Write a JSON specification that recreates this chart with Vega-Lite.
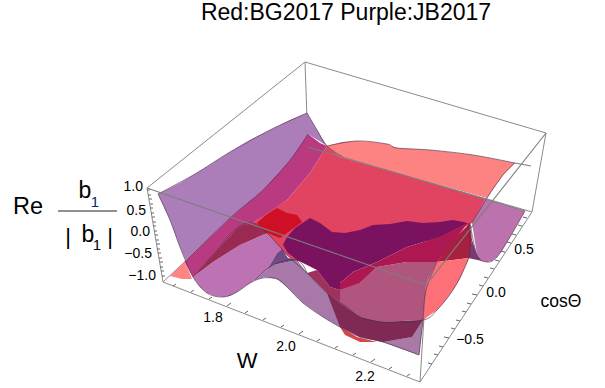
{"$schema":"https://vega.github.io/schema/vega-lite/v6.json","width":605,"height":388,"autosize":{"type":"fit","contains":"padding"},"padding":0,"background":"white","view":{"stroke":null},
"config":{"font":"Liberation Sans"},
"datasets":{
"back":[{"x":305,"y":62,"x2":147,"y2":188},{"x":305,"y":62,"x2":546,"y2":133},{"x":305,"y":62,"x2":308,"y2":147},{"x":546,"y":133,"x2":532,"y2":212},{"x":147,"y":188,"x2":163,"y2":282},{"x":163,"y":282,"x2":420,"y2":382},{"x":420,"y":382,"x2":532,"y2":212},{"x":308,"y":147,"x2":532,"y2":212},{"x":308,"y":147,"x2":163,"y2":282},{"x":426,"y":285,"x2":420,"y2":382}],
"front":[{"x":147,"y":188,"x2":426,"y2":285},{"x":426,"y":285,"x2":546,"y2":133},{"x":515,"y":163,"x2":531,"y2":166},{"x":308,"y":147,"x2":485,"y2":199},{"x":485,"y":199,"x2":525,"y2":211}],
"ticks":[{"x":147,"y":190,"x2":150,"y2":190},{"x":148,"y":195,"x2":151,"y2":195},{"x":149,"y":199,"x2":152,"y2":199},{"x":150,"y":204,"x2":153,"y2":204},{"x":150,"y":208,"x2":153,"y2":208},{"x":151,"y":213,"x2":154,"y2":213},{"x":152,"y":217,"x2":155,"y2":217},{"x":153,"y":222,"x2":156,"y2":222},{"x":153,"y":226,"x2":156,"y2":226},{"x":154,"y":231,"x2":157,"y2":231},{"x":155,"y":235,"x2":158,"y2":235},{"x":156,"y":240,"x2":159,"y2":240},{"x":157,"y":244,"x2":160,"y2":244},{"x":157,"y":249,"x2":160,"y2":249},{"x":158,"y":253,"x2":161,"y2":253},{"x":159,"y":258,"x2":162,"y2":258},{"x":160,"y":262,"x2":163,"y2":262},{"x":160,"y":267,"x2":163,"y2":267},{"x":161,"y":271,"x2":164,"y2":271},{"x":162,"y":276,"x2":165,"y2":276},
{"x":173,"y":286,"x2":176,"y2":284},{"x":191,"y":292,"x2":194,"y2":290},{"x":209,"y":299,"x2":212,"y2":297},{"x":227,"y":306,"x2":231,"y2":303},{"x":245,"y":313,"x2":248,"y2":311},{"x":263,"y":320,"x2":266,"y2":318},{"x":281,"y":327,"x2":284,"y2":325},{"x":299,"y":334,"x2":303,"y2":331},{"x":317,"y":341,"x2":320,"y2":339},{"x":335,"y":348,"x2":338,"y2":346},{"x":353,"y":355,"x2":356,"y2":353},{"x":371,"y":362,"x2":375,"y2":359},{"x":389,"y":369,"x2":392,"y2":367},{"x":407,"y":376,"x2":410,"y2":374},
{"x":432,"y":364,"x2":428,"y2":363},{"x":438,"y":355,"x2":434,"y2":354},{"x":443,"y":347,"x2":439,"y2":346},{"x":449,"y":338,"x2":444,"y2":337},{"x":455,"y":329,"x2":451,"y2":328},{"x":460,"y":321,"x2":456,"y2":320},{"x":466,"y":312,"x2":462,"y2":311},{"x":471,"y":304,"x2":467,"y2":303},{"x":477,"y":295,"x2":472,"y2":294},{"x":483,"y":286,"x2":479,"y2":285},{"x":488,"y":278,"x2":484,"y2":277},{"x":494,"y":269,"x2":490,"y2":268},{"x":499,"y":261,"x2":495,"y2":260},{"x":505,"y":252,"x2":500,"y2":251},{"x":511,"y":243,"x2":507,"y2":242},{"x":516,"y":235,"x2":512,"y2":234},{"x":522,"y":226,"x2":518,"y2":225},{"x":527,"y":218,"x2":523,"y2":217}],
"polys":[
{"g":"a01","i":0,"x":327,"y":146},{"g":"a01","i":1,"x":342,"y":142},{"g":"a01","i":2,"x":357,"y":141},{"g":"a01","i":3,"x":372,"y":142},{"g":"a01","i":4,"x":387,"y":144},{"g":"a01","i":5,"x":397,"y":148},{"g":"a01","i":6,"x":430,"y":150},{"g":"a01","i":7,"x":473,"y":155},{"g":"a01","i":8,"x":515,"y":163},{"g":"a01","i":9,"x":503,"y":175},{"g":"a01","i":10,"x":487,"y":198},{"g":"a01","i":11,"x":400,"y":174},{"g":"a01","i":12,"x":340,"y":157},
{"g":"a02","i":0,"x":158,"y":194},{"g":"a02","i":1,"x":180,"y":183},{"g":"a02","i":2,"x":205,"y":168},{"g":"a02","i":3,"x":230,"y":152},{"g":"a02","i":4,"x":250,"y":140},{"g":"a02","i":5,"x":270,"y":130},{"g":"a02","i":6,"x":290,"y":120},{"g":"a02","i":7,"x":307,"y":113},{"g":"a02","i":8,"x":317,"y":130},{"g":"a02","i":9,"x":327,"y":146},{"g":"a02","i":10,"x":308,"y":134},{"g":"a02","i":11,"x":290,"y":160},{"g":"a02","i":12,"x":263,"y":190},{"g":"a02","i":13,"x":230,"y":218},{"g":"a02","i":14,"x":185,"y":262},{"g":"a02","i":15,"x":193,"y":277},{"g":"a02","i":16,"x":180,"y":247},{"g":"a02","i":17,"x":170,"y":220},
{"g":"a03","i":0,"x":170,"y":276},{"g":"a03","i":1,"x":185,"y":261},{"g":"a03","i":2,"x":192,"y":279},{"g":"a03","i":3,"x":182,"y":279},
{"g":"a04","i":0,"x":308,"y":134},{"g":"a04","i":1,"x":320,"y":143},{"g":"a04","i":2,"x":327,"y":146},{"g":"a04","i":3,"x":310,"y":173},{"g":"a04","i":4,"x":287,"y":200},{"g":"a04","i":5,"x":270,"y":212},{"g":"a04","i":6,"x":253,"y":223},{"g":"a04","i":7,"x":237,"y":228},{"g":"a04","i":8,"x":217,"y":250},{"g":"a04","i":9,"x":193,"y":277},{"g":"a04","i":10,"x":185,"y":262},{"g":"a04","i":11,"x":230,"y":218},{"g":"a04","i":12,"x":263,"y":190},{"g":"a04","i":13,"x":290,"y":160},
{"g":"a05","i":0,"x":327,"y":146},{"g":"a05","i":1,"x":340,"y":157},{"g":"a05","i":2,"x":400,"y":174},{"g":"a05","i":3,"x":485,"y":199},{"g":"a05","i":4,"x":478,"y":215},{"g":"a05","i":5,"x":472,"y":223},{"g":"a05","i":6,"x":440,"y":240},{"g":"a05","i":7,"x":345,"y":250},{"g":"a05","i":8,"x":295,"y":262},{"g":"a05","i":9,"x":270,"y":240},{"g":"a05","i":10,"x":253,"y":223},{"g":"a05","i":11,"x":287,"y":200},{"g":"a05","i":12,"x":310,"y":173},
{"g":"a06","i":0,"x":257,"y":223},{"g":"a06","i":1,"x":266,"y":215},{"g":"a06","i":2,"x":277,"y":208},{"g":"a06","i":3,"x":287,"y":213},{"g":"a06","i":4,"x":297,"y":215},{"g":"a06","i":5,"x":302,"y":222},{"g":"a06","i":6,"x":280,"y":238},{"g":"a06","i":7,"x":265,"y":232},
{"g":"a07","i":0,"x":193,"y":277},{"g":"a07","i":1,"x":200,"y":287},{"g":"a07","i":2,"x":207,"y":293},{"g":"a07","i":3,"x":215,"y":296},{"g":"a07","i":4,"x":223,"y":297},{"g":"a07","i":5,"x":230,"y":296},{"g":"a07","i":6,"x":237,"y":292},{"g":"a07","i":7,"x":250,"y":283},{"g":"a07","i":8,"x":255,"y":280},{"g":"a07","i":9,"x":267,"y":270},{"g":"a07","i":10,"x":277,"y":253},{"g":"a07","i":11,"x":282,"y":249},{"g":"a07","i":12,"x":267,"y":233},{"g":"a07","i":13,"x":240,"y":245},{"g":"a07","i":14,"x":213,"y":262},
{"g":"a08","i":0,"x":193,"y":277},{"g":"a08","i":1,"x":213,"y":262},{"g":"a08","i":2,"x":240,"y":245},{"g":"a08","i":3,"x":267,"y":233},{"g":"a08","i":4,"x":261,"y":227},{"g":"a08","i":5,"x":253,"y":223},{"g":"a08","i":6,"x":244,"y":225},{"g":"a08","i":7,"x":237,"y":228},{"g":"a08","i":8,"x":217,"y":250},
{"g":"a09","i":0,"x":255,"y":280},{"g":"a09","i":1,"x":265,"y":277},{"g":"a09","i":2,"x":277,"y":279},{"g":"a09","i":3,"x":287,"y":287},{"g":"a09","i":4,"x":295,"y":295},{"g":"a09","i":5,"x":303,"y":303},{"g":"a09","i":6,"x":313,"y":310},{"g":"a09","i":7,"x":323,"y":317},{"g":"a09","i":8,"x":340,"y":327},{"g":"a09","i":9,"x":360,"y":337},{"g":"a09","i":10,"x":383,"y":342},{"g":"a09","i":11,"x":419,"y":355},{"g":"a09","i":12,"x":423,"y":320},{"g":"a09","i":13,"x":383,"y":322},{"g":"a09","i":14,"x":347,"y":307},{"g":"a09","i":15,"x":327,"y":293},{"g":"a09","i":16,"x":307,"y":273},{"g":"a09","i":17,"x":297,"y":260},{"g":"a09","i":18,"x":273,"y":265},
{"g":"a10","i":0,"x":255,"y":280},{"g":"a10","i":1,"x":267,"y":270},{"g":"a10","i":2,"x":277,"y":253},{"g":"a10","i":3,"x":282,"y":249},{"g":"a10","i":4,"x":288,"y":258},{"g":"a10","i":5,"x":297,"y":260},{"g":"a10","i":6,"x":273,"y":265},
{"g":"a11","i":0,"x":340,"y":327},{"g":"a11","i":1,"x":357,"y":337},{"g":"a11","i":2,"x":377,"y":342},{"g":"a11","i":3,"x":360,"y":342},{"g":"a11","i":4,"x":345,"y":335},
{"g":"a12","i":0,"x":340,"y":303},{"g":"a12","i":1,"x":360,"y":317},{"g":"a12","i":2,"x":383,"y":322},{"g":"a12","i":3,"x":423,"y":320},{"g":"a12","i":4,"x":412,"y":337},{"g":"a12","i":5,"x":383,"y":342},{"g":"a12","i":6,"x":360,"y":337},{"g":"a12","i":7,"x":340,"y":327},{"g":"a12","i":8,"x":327,"y":293},
{"g":"a13","i":0,"x":307,"y":273},{"g":"a13","i":1,"x":317,"y":270},{"g":"a13","i":2,"x":330,"y":287},{"g":"a13","i":3,"x":340,"y":290},{"g":"a13","i":4,"x":360,"y":283},{"g":"a13","i":5,"x":360,"y":317},{"g":"a13","i":6,"x":347,"y":307},{"g":"a13","i":7,"x":327,"y":293},
{"g":"a14","i":0,"x":340,"y":290},{"g":"a14","i":1,"x":360,"y":283},{"g":"a14","i":2,"x":377,"y":267},{"g":"a14","i":3,"x":407,"y":262},{"g":"a14","i":4,"x":437,"y":262},{"g":"a14","i":5,"x":426,"y":285},{"g":"a14","i":6,"x":423,"y":320},{"g":"a14","i":7,"x":383,"y":322},{"g":"a14","i":8,"x":360,"y":317},{"g":"a14","i":9,"x":340,"y":303},
{"g":"a15","i":0,"x":283,"y":245},{"g":"a15","i":1,"x":287,"y":237},{"g":"a15","i":2,"x":295,"y":228},{"g":"a15","i":3,"x":310,"y":218},{"g":"a15","i":4,"x":320,"y":223},{"g":"a15","i":5,"x":332,"y":232},{"g":"a15","i":6,"x":345,"y":233},{"g":"a15","i":7,"x":360,"y":230},{"g":"a15","i":8,"x":373,"y":225},{"g":"a15","i":9,"x":390,"y":224},{"g":"a15","i":10,"x":407,"y":221},{"g":"a15","i":11,"x":423,"y":223},{"g":"a15","i":12,"x":440,"y":222},{"g":"a15","i":13,"x":453,"y":220},{"g":"a15","i":14,"x":468,"y":223},{"g":"a15","i":15,"x":440,"y":237},{"g":"a15","i":16,"x":407,"y":247},{"g":"a15","i":17,"x":377,"y":262},{"g":"a15","i":18,"x":353,"y":272},{"g":"a15","i":19,"x":340,"y":283},{"g":"a15","i":20,"x":340,"y":290},{"g":"a15","i":21,"x":330,"y":287},{"g":"a15","i":22,"x":317,"y":270},{"g":"a15","i":23,"x":297,"y":260},{"g":"a15","i":24,"x":288,"y":253},
{"g":"a16","i":0,"x":340,"y":283},{"g":"a16","i":1,"x":353,"y":272},{"g":"a16","i":2,"x":377,"y":262},{"g":"a16","i":3,"x":407,"y":247},{"g":"a16","i":4,"x":440,"y":237},{"g":"a16","i":5,"x":468,"y":223},{"g":"a16","i":6,"x":437,"y":262},{"g":"a16","i":7,"x":407,"y":262},{"g":"a16","i":8,"x":377,"y":267},{"g":"a16","i":9,"x":360,"y":283},{"g":"a16","i":10,"x":340,"y":290},
{"g":"a17","i":0,"x":437,"y":262},{"g":"a17","i":1,"x":453,"y":240},{"g":"a17","i":2,"x":470,"y":223},{"g":"a17","i":3,"x":472,"y":240},{"g":"a17","i":4,"x":469,"y":258},
{"g":"a18","i":0,"x":437,"y":262},{"g":"a18","i":1,"x":469,"y":258},{"g":"a18","i":2,"x":465,"y":267},{"g":"a18","i":3,"x":460,"y":279},{"g":"a18","i":4,"x":453,"y":290},{"g":"a18","i":5,"x":445,"y":301},{"g":"a18","i":6,"x":437,"y":310},{"g":"a18","i":7,"x":423,"y":320},{"g":"a18","i":8,"x":426,"y":285},
{"g":"a19","i":0,"x":472,"y":223},{"g":"a19","i":1,"x":485,"y":199},{"g":"a19","i":2,"x":525,"y":211},{"g":"a19","i":3,"x":517,"y":225},{"g":"a19","i":4,"x":510,"y":237},{"g":"a19","i":5,"x":503,"y":249},{"g":"a19","i":6,"x":497,"y":257},{"g":"a19","i":7,"x":492,"y":261},{"g":"a19","i":8,"x":487,"y":262},{"g":"a19","i":9,"x":481,"y":260},{"g":"a19","i":10,"x":477,"y":255},
{"g":"a20","i":0,"x":472,"y":240},{"g":"a20","i":1,"x":477,"y":255},{"g":"a20","i":2,"x":481,"y":260},{"g":"a20","i":3,"x":487,"y":262},{"g":"a20","i":4,"x":468,"y":258},
{"g":"a21","i":0,"x":383,"y":342},{"g":"a21","i":1,"x":412,"y":337},{"g":"a21","i":2,"x":423,"y":320},{"g":"a21","i":3,"x":419,"y":355}
],
"edges":[
{"g":"e1","i":0,"x":158,"y":194},{"g":"e1","i":1,"x":195,"y":174},{"g":"e1","i":2,"x":230,"y":152},{"g":"e1","i":3,"x":270,"y":130},{"g":"e1","i":4,"x":307,"y":113},
{"g":"e7","i":0,"x":307,"y":113},{"g":"e7","i":1,"x":317,"y":130},{"g":"e7","i":2,"x":327,"y":146},{"g":"e7","i":3,"x":343,"y":157},
{"g":"e2","i":0,"x":158,"y":194},{"g":"e2","i":1,"x":170,"y":220},{"g":"e2","i":2,"x":180,"y":247},{"g":"e2","i":3,"x":193,"y":277},{"g":"e2","i":4,"x":207,"y":293},{"g":"e2","i":5,"x":223,"y":297},{"g":"e2","i":6,"x":237,"y":292},{"g":"e2","i":7,"x":250,"y":283},{"g":"e2","i":8,"x":263,"y":278},{"g":"e2","i":9,"x":277,"y":279},{"g":"e2","i":10,"x":287,"y":287},{"g":"e2","i":11,"x":303,"y":303},{"g":"e2","i":12,"x":323,"y":317},{"g":"e2","i":13,"x":340,"y":327},{"g":"e2","i":14,"x":360,"y":337},{"g":"e2","i":15,"x":383,"y":342},{"g":"e2","i":16,"x":419,"y":355},
{"g":"e8","i":0,"x":419,"y":355},{"g":"e8","i":1,"x":423,"y":320},{"g":"e8","i":2,"x":426,"y":290},{"g":"e8","i":3,"x":437,"y":262},
{"g":"e3","i":0,"x":193,"y":277},{"g":"e3","i":1,"x":217,"y":250},{"g":"e3","i":2,"x":237,"y":228},{"g":"e3","i":3,"x":253,"y":223},{"g":"e3","i":4,"x":267,"y":233},{"g":"e3","i":5,"x":280,"y":247},{"g":"e3","i":6,"x":290,"y":258},{"g":"e3","i":7,"x":307,"y":273},{"g":"e3","i":8,"x":327,"y":293},{"g":"e3","i":9,"x":347,"y":307},{"g":"e3","i":10,"x":360,"y":317},{"g":"e3","i":11,"x":383,"y":322},{"g":"e3","i":12,"x":423,"y":320},{"g":"e3","i":13,"x":437,"y":310},{"g":"e3","i":14,"x":453,"y":290},{"g":"e3","i":15,"x":465,"y":267},{"g":"e3","i":16,"x":470,"y":250},{"g":"e3","i":17,"x":468,"y":223},
{"g":"e4","i":0,"x":327,"y":146},{"g":"e4","i":1,"x":357,"y":141},{"g":"e4","i":2,"x":387,"y":144},{"g":"e4","i":3,"x":397,"y":148},{"g":"e4","i":4,"x":430,"y":150},{"g":"e4","i":5,"x":473,"y":155},{"g":"e4","i":6,"x":515,"y":163},
{"g":"e5","i":0,"x":308,"y":134},{"g":"e5","i":1,"x":290,"y":160},{"g":"e5","i":2,"x":263,"y":190},{"g":"e5","i":3,"x":230,"y":218},{"g":"e5","i":4,"x":185,"y":262},
{"g":"e6","i":0,"x":470,"y":223},{"g":"e6","i":1,"x":477,"y":255},{"g":"e6","i":2,"x":487,"y":262},{"g":"e6","i":3,"x":497,"y":257},{"g":"e6","i":4,"x":510,"y":237},{"g":"e6","i":5,"x":525,"y":211},
{"g":"e9","i":0,"x":515,"y":163},{"g":"e9","i":1,"x":503,"y":175},{"g":"e9","i":2,"x":487,"y":198},{"g":"e9","i":3,"x":472,"y":223},
{"g":"e10","i":0,"x":255,"y":280},{"g":"e10","i":1,"x":273,"y":265},{"g":"e10","i":2,"x":297,"y":260},{"g":"e10","i":3,"x":307,"y":273}
],
"labels":[
{"t":"Red:BG2017  Purple:JB2017","x":346,"y":13,"s":23,"a":"center","c":"#000"},
{"t":"Re","x":28,"y":207,"s":23.5,"a":"center","c":"#000"},
{"t":"b","x":85,"y":191,"s":23,"a":"center","c":"#000"},
{"t":"1","x":95,"y":202,"s":15,"a":"center","c":"#0a2a6a"},
{"t":"|","x":68,"y":237,"s":22,"a":"center","c":"#000"},
{"t":"b","x":88,"y":235,"s":23,"a":"center","c":"#000"},
{"t":"1","x":97,"y":245,"s":15,"a":"center","c":"#000"},
{"t":"|","x":110,"y":237,"s":22,"a":"center","c":"#000"},
{"t":"1.0","x":143,"y":187,"s":14,"a":"right","c":"#000"},
{"t":"0.5","x":146,"y":211,"s":14,"a":"right","c":"#000"},
{"t":"0.0","x":150,"y":232,"s":14,"a":"right","c":"#000"},
{"t":"−0.5","x":152,"y":254,"s":14,"a":"right","c":"#000"},
{"t":"−1.0","x":156,"y":276,"s":14,"a":"right","c":"#000"},
{"t":"1.8","x":213,"y":318,"s":14,"a":"center","c":"#000"},
{"t":"2.0","x":286,"y":347,"s":14,"a":"center","c":"#000"},
{"t":"2.2","x":365,"y":377,"s":14,"a":"center","c":"#000"},
{"t":"W","x":247,"y":361,"s":22,"a":"center","c":"#000"},
{"t":"0.5","x":524,"y":250,"s":14,"a":"center","c":"#000"},
{"t":"0.0","x":496,"y":293,"s":14,"a":"center","c":"#000"},
{"t":"−0.5","x":470,"y":340,"s":14,"a":"center","c":"#000"},
{"t":"cosΘ","x":561,"y":302,"s":17.5,"a":"center","c":"#000"}
],
"frac":[{"x":58,"y":211,"x2":117,"y2":211}]
},
"layer":[
{"data":{"name":"back"},"mark":{"type":"rule","color":"#8a8a8a","strokeWidth":1},"encoding":{
"x":{"field":"x","type":"quantitative","scale":{"domain":[0,605],"nice":false,"zero":false},"axis":null},
"y":{"field":"y","type":"quantitative","scale":{"domain":[388,0],"nice":false,"zero":false},"axis":null},
"x2":{"field":"x2"},"y2":{"field":"y2"}}},
{"data":{"name":"ticks"},"mark":{"type":"rule","color":"#666666","strokeWidth":1},"encoding":{"x":{"field":"x","type":"quantitative"},"y":{"field":"y","type":"quantitative"},"x2":{"field":"x2"},"y2":{"field":"y2"}}},
{"data":{"name":"polys"},"mark":{"type":"line","strokeWidth":0,"opacity":1},"encoding":{
"x":{"field":"x","type":"quantitative"},"y":{"field":"y","type":"quantitative"},"order":{"field":"i","type":"quantitative"},"detail":{"field":"g"},
"fill":{"field":"g","type":"nominal","legend":null,"scale":{"domain":["a01","a02","a03","a04","a05","a06","a07","a08","a09","a10","a11","a12","a13","a14","a15","a16","a17","a18","a19","a20","a21"],"range":["#fd8282","#ab7eba","#ff8585","#b93a80","#e04460","#cf0f25","#bd72b4","#9a2a52","#a878a8","#6f4a85","#d84545","#7e2a55","#a0305c","#b0567e","#7a1260","#ad1852","#a82040","#fd7078","#bc72ac","#7a3a70","#a97aa6"]}}}},
{"data":{"name":"edges"},"mark":{"type":"line","color":"#4a3048","strokeWidth":0.8,"opacity":0.8,"interpolate":"cardinal"},"encoding":{"x":{"field":"x","type":"quantitative"},"y":{"field":"y","type":"quantitative"},"order":{"field":"i","type":"quantitative"},"detail":{"field":"g"}}},
{"data":{"name":"front"},"mark":{"type":"rule","color":"#7d7d7d","strokeWidth":1.1},"encoding":{"x":{"field":"x","type":"quantitative"},"y":{"field":"y","type":"quantitative"},"x2":{"field":"x2"},"y2":{"field":"y2"}}},
{"data":{"name":"frac"},"mark":{"type":"rule","color":"#222222","strokeWidth":1},"encoding":{"x":{"field":"x","type":"quantitative"},"y":{"field":"y","type":"quantitative"},"x2":{"field":"x2"},"y2":{"field":"y2"}}},
{"data":{"name":"labels"},"transform":[{"filter":"datum.a==='center'"}],"mark":{"type":"text","align":"center","baseline":"middle","font":"Liberation Sans"},"encoding":{"x":{"field":"x","type":"quantitative"},"y":{"field":"y","type":"quantitative"},"text":{"field":"t"},"size":{"field":"s","type":"quantitative","scale":null},"color":{"field":"c","type":"nominal","scale":null}}},
{"data":{"name":"labels"},"transform":[{"filter":"datum.a==='right'"}],"mark":{"type":"text","align":"right","baseline":"middle","font":"Liberation Sans"},"encoding":{"x":{"field":"x","type":"quantitative"},"y":{"field":"y","type":"quantitative"},"text":{"field":"t"},"size":{"field":"s","type":"quantitative","scale":null},"color":{"field":"c","type":"nominal","scale":null}}}
]}
